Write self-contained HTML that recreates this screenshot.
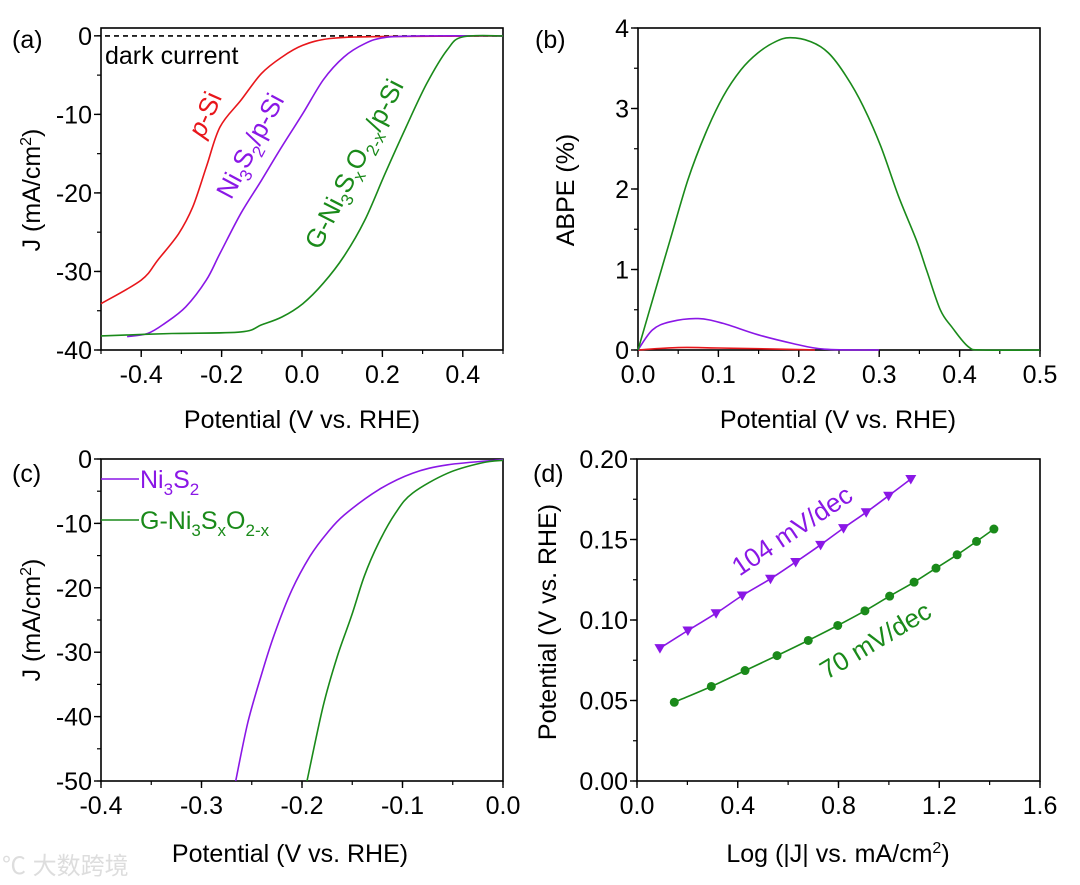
<!DOCTYPE html>
<html><head><meta charset="utf-8">
<style>
html,body{margin:0;padding:0;background:#fff;}
svg{display:block;font-family:"Liberation Sans",Arial,sans-serif;}
</style></head>
<body>
<svg id="fig" width="1080" height="885" viewBox="0 0 1080 885" xmlns="http://www.w3.org/2000/svg">
<text x="2" y="874" font-size="24" fill="#ddd" font-family="'Liberation Sans','Noto Sans CJK SC',sans-serif">℃ 大数跨境</text>
</svg>
<script>
// ---- Panel (a) data ----
const aRedX=[-0.5,-0.40,-0.358,-0.307,-0.272,-0.238,-0.204,-0.152,-0.101,-0.05,0.002,0.07,0.19,0.5];
const aRedY=[-34.1,-31.1,-28.5,-25.2,-21.8,-16.7,-11.6,-8.2,-4.8,-2.7,-1.2,-0.34,-0.1,0];
const aPurX=[-0.435,-0.384,-0.341,-0.289,-0.238,-0.204,-0.152,-0.101,-0.05,0.002,0.053,0.104,0.156,0.207,0.3,0.5];
const aPurY=[-38.3,-37.9,-36.6,-34.5,-31.1,-27.7,-22.6,-18.4,-14.1,-9.9,-5.6,-2.7,-1.0,-0.2,0,0];
const aGrnX=[-0.5,-0.324,-0.152,-0.101,-0.05,0.002,0.053,0.104,0.156,0.207,0.259,0.31,0.361,0.4,0.5];
const aGrnY=[-38.2,-37.9,-37.7,-36.8,-35.8,-34.1,-31.5,-28.1,-23.5,-17.5,-11.6,-6.1,-1.8,-0.13,0];
const aXTicks=[-0.4,-0.2,0.0,0.2,0.4];
const aXTickLabels=["-0.4","-0.2","0.0","0.2","0.4"];
const aYTicks=[0,-10,-20,-30,-40];
const aYTickLabels=["0","-10","-20","-30","-40"];
// ---- Panel (b) data ----
const bGrnX=[0,0.018,0.04,0.062,0.084,0.106,0.128,0.149,0.171,0.189,0.215,0.237,0.259,0.28,0.302,0.324,0.346,0.359,0.376,0.39,0.411,0.429,0.5];
const bGrnY=[0,0.62,1.37,2.11,2.69,3.15,3.48,3.69,3.83,3.88,3.83,3.69,3.40,3.03,2.53,1.91,1.37,0.99,0.50,0.29,0.04,0,0];
const bPurX=[0,0.018,0.04,0.075,0.106,0.149,0.193,0.232,0.3];
const bPurY=[0,0.25,0.35,0.39,0.33,0.19,0.08,0.01,0];
const bRedX=[0,0.05,0.1,0.2,0.22];
const bRedY=[0,0.03,0.025,0.005,0];
const bXTicks=[0,0.1,0.2,0.3,0.4,0.5];
const bXTickLabels=["0.0","0.1","0.2","0.3","0.4","0.5"];
const bYTicks=[0,1,2,3,4];
const bYTickLabels=["0","1","2","3","4"];
// ---- Panel (c) data ----
const cPurX=[-0.266,-0.254,-0.24,-0.227,-0.21,-0.192,-0.175,-0.158,-0.124,-0.09,-0.055,0];
const cPurY=[-50,-41,-33.3,-27,-20.3,-15.1,-11.5,-8.7,-4.8,-2.2,-0.9,-0.1];
const cGrnX=[-0.195,-0.179,-0.165,-0.151,-0.138,-0.124,-0.107,-0.09,-0.055,-0.021,0];
const cGrnY=[-50,-38.4,-30.7,-24.5,-18.2,-13.1,-8.4,-5.3,-2.2,-0.6,-0.2];
const cXTicks=[-0.4,-0.3,-0.2,-0.1,0.0];
const cXTickLabels=["-0.4","-0.3","-0.2","-0.1","0.0"];
const cYTicks=[0,-10,-20,-30,-40,-50];
const cYTickLabels=["0","-10","-20","-30","-40","-50"];
// ---- Panel (d) data ----
const dPurX=[0.091,0.202,0.314,0.418,0.530,0.630,0.729,0.820,0.910,0.999,1.087];
const dPurY=[0.0825,0.0935,0.1042,0.1152,0.1256,0.1360,0.1467,0.1571,0.1669,0.1772,0.1876];
const dGrnX=[0.148,0.295,0.429,0.556,0.680,0.797,0.905,1.003,1.100,1.187,1.271,1.348,1.417];
const dGrnY=[0.0489,0.0587,0.0686,0.0779,0.0873,0.0966,0.1057,0.1148,0.1235,0.1322,0.1405,0.1488,0.1565];
const dXTicks=[0,0.4,0.8,1.2,1.6];
const dXTickLabels=["0.0","0.4","0.8","1.2","1.6"];
const dYTicks=[0,0.05,0.10,0.15,0.20];
const dYTickLabels=["0.00","0.05","0.10","0.15","0.20"];

const NS="http://www.w3.org/2000/svg";
const svg=document.getElementById('fig');
const RED="#e8161b",PUR="#8a17e6",GRN="#1a8a1a";
const TF=25, AF=25;
function mk(tag,attrs,parent){const e=document.createElementNS(NS,tag);for(const k in attrs)e.setAttribute(k,attrs[k]);(parent||svg).appendChild(e);return e;}

function panel(name,L,R,T,B,x0,x1,y0,y1,xt,xtl,yt,ytl,xminor,yminor){
  const g=mk('g',{});
  
  
  const sx=v=>L+(v-x0)/(x1-x0)*(R-L);
  const sy=v=>B-(v-y0)/(y1-y0)*(B-T);
  const box=mk('rect',{x:L,y:T,width:R-L,height:B-T,fill:'none',stroke:'#000','stroke-width':1.6},g);
  
  
  for(let v=x0;v<=x1+1e-9;v+=xminor){const x=sx(v);mk('line',{x1:x,x2:x,y1:B,y2:B+4,stroke:'#000','stroke-width':1.2},g);}
  for(let v=y0;v<=y1+1e-9;v+=yminor){const y=sy(v);mk('line',{x1:L-4,x2:L,y1:y,y2:y,stroke:'#000','stroke-width':1.2},g);}
  xt.forEach((v,i)=>{const x=sx(v);mk('line',{x1:x,x2:x,y1:B,y2:B+7,stroke:'#000','stroke-width':1.4},g);
    const t=mk('text',{x:x,y:B+33,'font-size':TF,'text-anchor':'middle'},g);t.textContent=xtl[i];
    
    });
  yt.forEach((v,i)=>{const y=sy(v);mk('line',{x1:L-7,x2:L,y1:y,y2:y,stroke:'#000','stroke-width':1.4},g);
    const t=mk('text',{x:L-9,y:y+9,'font-size':TF,'text-anchor':'end'},g);t.textContent=ytl[i];
    
    });
  return {g,sx,sy};
}
function smoothPath(pts){
  let d='M'+pts[0][0].toFixed(1)+' '+pts[0][1].toFixed(1);
  for(let i=0;i<pts.length-1;i++){
    const p0=pts[i-1]||pts[i],p1=pts[i],p2=pts[i+1],p3=pts[i+2]||p2;
    const c1=[p1[0]+(p2[0]-p0[0])/6,p1[1]+(p2[1]-p0[1])/6];
    const c2=[p2[0]-(p3[0]-p1[0])/6,p2[1]-(p3[1]-p1[1])/6];
    d+=` C${c1[0].toFixed(1)} ${c1[1].toFixed(1)} ${c2[0].toFixed(1)} ${c2[1].toFixed(1)} ${p2[0].toFixed(1)} ${p2[1].toFixed(1)}`;
  }
  return d;
}
function line(p,xs,ys,color,name,dash,straight){
  const pts=xs.map((v,i)=>[p.sx(v),p.sy(ys[i])]);
  const d=straight?pts.map((q,i)=>(i?'L':'M')+q[0].toFixed(1)+' '+q[1].toFixed(1)).join(' '):smoothPath(pts);
  const e=mk('path',{d:d,fill:'none',stroke:color,'stroke-width':1.6},p.g);
  if(dash)e.setAttribute('stroke-dasharray',dash);
  
  
  return e;
}
function txt(x,y,html,opts){
  const t=mk('text',Object.assign({x:x,y:y,'font-size':AF},opts||{}));
  t.innerHTML=html;return t;
}
const SUB='font-size="17" dy="7"', UP='dy="-7"';

// Panel a
const pa=panel('panel-a',101,503,28,350,-0.5,0.5,-40,1,aXTicks,aXTickLabels,aYTicks,aYTickLabels,0.1,5);
line(pa,[-0.49,0.5],[0,0],'#000','dark-current-line','5 4',true);
line(pa,aRedX,aRedY,RED,'line-p-si');
line(pa,aPurX,aPurY,PUR,'line-ni3s2-p-si');
line(pa,aGrnX,aGrnY,GRN,'line-g-ni3sxo2x-p-si');
let t;
t=txt(105,64,'dark current',{'font-size':25});

t=txt(213,118,'<tspan font-style="italic">p</tspan>-Si',{'font-size':26,fill:RED,'text-anchor':'middle',transform:'rotate(-66 213 118)'});

t=txt(258,150,'Ni<tspan '+SUB+'>3</tspan><tspan '+UP+'>S</tspan><tspan '+SUB+'>2</tspan><tspan '+UP+'>/p-Si</tspan>',{'font-size':26,fill:PUR,'text-anchor':'middle',transform:'rotate(-62 258 150)'});

t=txt(362,168,'G-Ni<tspan '+SUB+'>3</tspan><tspan '+UP+'>S</tspan><tspan '+SUB+'>x</tspan><tspan '+UP+'>O</tspan><tspan '+SUB+'>2-x</tspan><tspan '+UP+'>/p-Si</tspan>',{'font-size':26,fill:GRN,'text-anchor':'middle',transform:'rotate(-63 362 168)'});

t=txt(302,428,'Potential (V vs. RHE)',{'text-anchor':'middle'});

t=txt(40,190,'J (mA/cm<tspan font-size="16" dy="-9">2</tspan><tspan dy="9">)</tspan>',{'text-anchor':'middle',transform:'rotate(-90 40 190)'});

t=txt(12,48,'(a)');

// Panel b
const pb=panel('panel-b',638,1040,28,350,0,0.5,0,4,bXTicks,bXTickLabels,bYTicks,bYTickLabels,0.05,0.5);
line(pb,bRedX,bRedY,RED,'abpe-p-si');
line(pb,bPurX,bPurY,PUR,'abpe-ni3s2');
line(pb,bGrnX,bGrnY,GRN,'abpe-g-ni3sxo2x');
t=txt(838,428,'Potential (V vs. RHE)',{'text-anchor':'middle'});

t=txt(574,190,'ABPE (%)',{'text-anchor':'middle',transform:'rotate(-90 574 190)'});

t=txt(535,48,'(b)');

// Panel c
const pc=panel('panel-c',101,503,459,781,-0.4,0,-50,0,cXTicks,cXTickLabels,cYTicks,cYTickLabels,0.05,5);
line(pc,cPurX,cPurY,PUR,'lsv-ni3s2');
line(pc,cGrnX,cGrnY,GRN,'lsv-g-ni3sxo2x');
mk('line',{x1:101,x2:139,y1:479,y2:479,stroke:PUR,'stroke-width':1.6});
mk('line',{x1:101,x2:139,y1:520,y2:520,stroke:GRN,'stroke-width':1.6});
t=txt(140,488,'Ni<tspan '+SUB+'>3</tspan><tspan '+UP+'>S</tspan><tspan '+SUB+'>2</tspan>',{fill:PUR});

t=txt(140,529,'G-Ni<tspan '+SUB+'>3</tspan><tspan '+UP+'>S</tspan><tspan '+SUB+'>x</tspan><tspan '+UP+'>O</tspan><tspan '+SUB+'>2-x</tspan>',{fill:GRN});

t=txt(290,862,'Potential (V vs. RHE)',{'text-anchor':'middle'});

t=txt(40,620,'J (mA/cm<tspan font-size="16" dy="-9">2</tspan><tspan dy="9">)</tspan>',{'text-anchor':'middle',transform:'rotate(-90 40 620)'});

t=txt(12,482,'(c)');

// Panel d
const pd=panel('panel-d',637,1040,459,781,0,1.6,0,0.2,dXTicks,dXTickLabels,dYTicks,dYTickLabels,0.2,0.025);
line(pd,dPurX,dPurY,PUR,'tafel-ni3s2');
line(pd,dGrnX,dGrnY,GRN,'tafel-g-ni3sxo2x');
dPurX.forEach((v,i)=>{const x=pd.sx(v),y=pd.sy(dPurY[i]);
  const m=mk('path',{d:`M${x-5.5} ${y-4} L${x+5.5} ${y-4} L${x} ${y+5.5} Z`,fill:PUR},pd.g);
  
  });
dGrnX.forEach((v,i)=>{const m=mk('circle',{cx:pd.sx(v),cy:pd.sy(dGrnY[i]),r:4.5,fill:GRN},pd.g);
  
  });
t=txt(797,538,'104 mV/dec',{'font-size':26,fill:PUR,'text-anchor':'middle',transform:'rotate(-34 797 538)'});

t=txt(880,648,'70 mV/dec',{'font-size':26,fill:GRN,'text-anchor':'middle',transform:'rotate(-31 880 648)'});

t=txt(838,862,'Log (|J| vs. mA/cm<tspan font-size="16" dy="-9">2</tspan><tspan dy="9">)</tspan>',{'text-anchor':'middle'});

t=txt(556,622,'Potential (V vs. RHE)',{'text-anchor':'middle',transform:'rotate(-90 556 622)'});

t=txt(533,482,'(d)');
</script>
</body></html>
